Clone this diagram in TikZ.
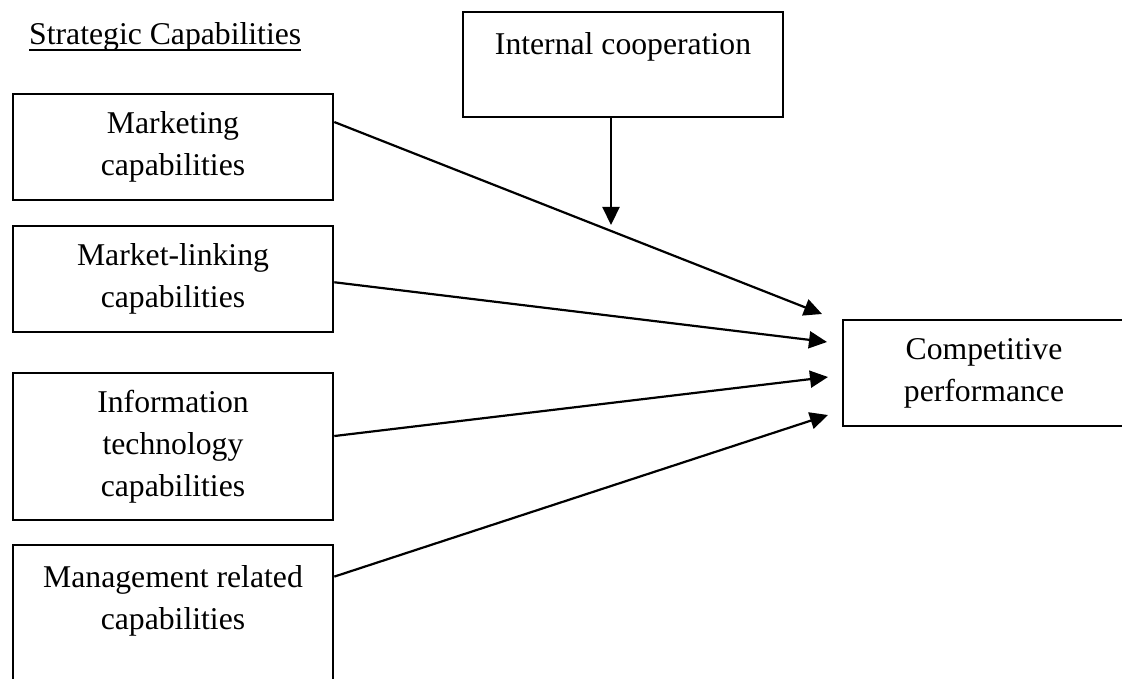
\documentclass[tikz,border=0pt]{standalone}
\usepackage{fontspec}
\setmainfont{Liberation Serif}
\usetikzlibrary{arrows.meta,calc}
\newcommand{\ulcap}[1]{\setbox0\hbox{#1}\rlap{\rule[-6pt]{\wd0}{2pt}}\box0}

\begin{document}
\begin{tikzpicture}
  [x=1pt,y=-1pt,every node/.style={font=\fontsize{31.7}{42}\selectfont,align=center,inner sep=0pt},
   capbox/.style={draw,line width=2.6pt,minimum width=320pt,minimum height=106pt},
   link/.style={line width=2.2pt,-{Triangle[length=18pt,width=17pt]}}]
  \useasboundingbox (0,0) rectangle (1122,679);
  \clip (0,0) rectangle (1122,679);
  \node[anchor=base west] (title) at (29,45) {\ulcap{Strategic Capabilities}};
  \node[capbox] (mc) at (173,147) {Marketing\\capabilities};
  \node[capbox] (ml) at (173,279) {Market-linking\\capabilities};
  \node[capbox,minimum height=147pt] (it) at (173,446.5) {Information\\technology\\capabilities};
  \node[capbox,minimum height=147pt] (mr) at (173,618.5) {Management related\\capabilities\\~};
  \node[capbox,minimum height=105pt] (ic) at (623,64.5) {Internal cooperation\\~};
  \node[capbox,minimum width=282pt] (cp) at (984,373) {Competitive\\performance};

  \coordinate (t1) at (822,314);
  \coordinate (t2) at (827,342);
  \coordinate (t3) at (828,377);
  \coordinate (t4) at (828,415);
  \coordinate (dn) at (611,225);

\foreach \from/\pos/\to in
{mc/0.27/t1, ml/0.53/t2, it/0.43/t3, mr/0.22/t4}
    \draw[link] ($(\from.north east)!\pos!(\from.south east)$) -- (\to);
    \draw[link] (ic.south -| dn) -- (dn);
\end{tikzpicture}
\end{document}
